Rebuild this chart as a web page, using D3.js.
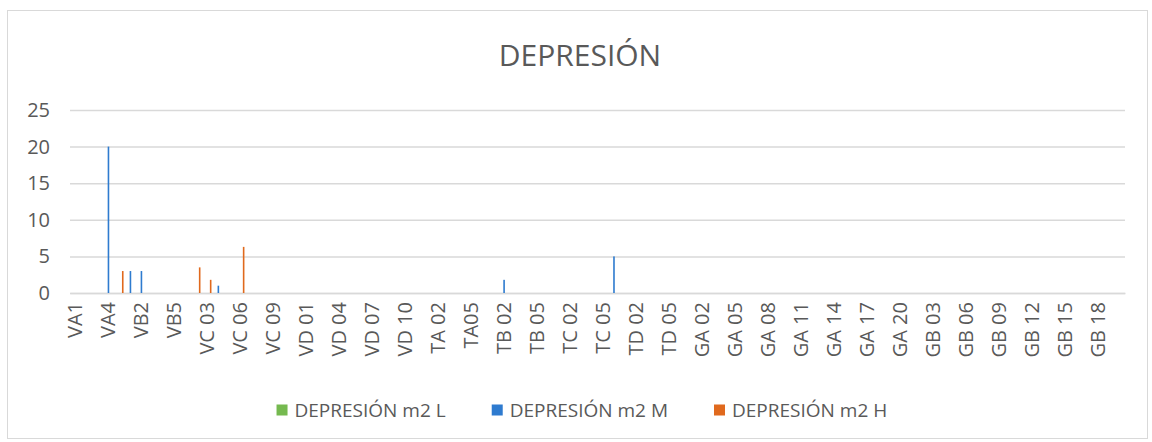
<!DOCTYPE html>
<html>
<head>
<meta charset="utf-8">
<script src="https://cdn.jsdelivr.net/npm/d3@7"></script>
<style>
  body { margin: 0; background: #fff; }
  text { font-family: "Open Sans", "DejaVu Sans", sans-serif; fill: #595959; }
</style>
</head>
<body>
<svg width="1152" height="442"></svg>
<script>
// categories (96 sections), labels shown every 3rd one
var categories = [
  "VA1","VA2","VA3","VA4","VA5",
  "VB1","VB2","VB3","VB4","VB5",
  "VC 01","VC 02","VC 03","VC 04","VC 05","VC 06","VC 07","VC 08","VC 09","VC 10","VC 11",
  "VD 01","VD 02","VD 03","VD 04","VD 05","VD 06","VD 07","VD 08","VD 09","VD 10","VD 11",
  "TA 01","TA 02","TA 03","TA 04","TA05","TA 06",
  "TB 01","TB 02","TB 03","TB 04","TB 05","TB 06",
  "TC 01","TC 02","TC 03","TC 04","TC 05","TC 06",
  "TD 01","TD 02","TD 03","TD 04","TD 05","TD 06",
  "GA 01","GA 02","GA 03","GA 04","GA 05","GA 06","GA 07","GA 08","GA 09","GA 10",
  "GA 11","GA 12","GA 13","GA 14","GA 15","GA 16","GA 17","GA 18","GA 19","GA 20",
  "GB 01","GB 02","GB 03","GB 04","GB 05","GB 06","GB 07","GB 08","GB 09","GB 10",
  "GB 11","GB 12","GB 13","GB 14","GB 15","GB 16","GB 17","GB 18","GB 19","GB 20"
];

var seriesNames = ["DEPRESIÓN m2 L", "DEPRESIÓN m2 M", "DEPRESIÓN m2 H"];
var seriesColors = ["#75b94f", "#2e7bcf", "#e0691d"];

// values per category, same order as categories
var valuesL = [
  0,0,0,0,0, 0,0,0,0,0,
  0,0,0,0,0,0,0,0,0,0,0,
  0,0,0,0,0,0,0,0,0,0,0,
  0,0,0,0,0,0, 0,0,0,0,0,0, 0,0,0,0,0,0, 0,0,0,0,0,0,
  0,0,0,0,0,0,0,0,0,0, 0,0,0,0,0,0,0,0,0,0,
  0,0,0,0,0,0,0,0,0,0, 0,0,0,0,0,0,0,0,0,0
];
var valuesM = [
  0,0,0,20,0, 3,3,0,0,0,
  0,0,0,1,0,0,0,0,0,0,0,
  0,0,0,0,0,0,0,0,0,0,0,
  0,0,0,0,0,0, 0,1.8,0,0,0,0, 0,0,0,0,0,5, 0,0,0,0,0,0,
  0,0,0,0,0,0,0,0,0,0, 0,0,0,0,0,0,0,0,0,0,
  0,0,0,0,0,0,0,0,0,0, 0,0,0,0,0,0,0,0,0,0
];
var valuesH = [
  0,0,0,0,3, 0,0,0,0,0,
  0,3.5,1.8,0,0,6.3,0,0,0,0,0,
  0,0,0,0,0,0,0,0,0,0,0,
  0,0,0,0,0,0, 0,0,0,0,0,0, 0,0,0,0,0,0, 0,0,0,0,0,0,
  0,0,0,0,0,0,0,0,0,0, 0,0,0,0,0,0,0,0,0,0,
  0,0,0,0,0,0,0,0,0,0, 0,0,0,0,0,0,0,0,0,0
];
var yTicks = [0, 5, 10, 15, 20, 25];

var svg = d3.select("svg");

// chart frame
svg.append("rect")
  .attr("x", 7.5).attr("y", 10.5)
  .attr("width", 1140).attr("height", 428)
  .attr("fill", "#fff").attr("stroke", "#d9d9d9");

// title
svg.append("text")
  .attr("x", 580).attr("y", 66)
  .attr("text-anchor", "middle")
  .style("font-size", "30px")
  .text("DEPRESIÓN");

// plot area (px)
var plotL = 70, plotR = 1125, plotT = 110, plotB = 293;

var x = d3.scaleBand().domain(categories).range([plotL, plotR]);
// the three series sit side by side inside each category
var xs = d3.scalePoint().domain(seriesNames).range([-3.3, 3.3]);
var y = d3.scaleLinear().domain([0, 25]).range([plotB, plotT]);

// gridlines + y labels
var yAxis = svg.append("g")
  .attr("transform", "translate(" + plotL + ",0)")
  .call(d3.axisLeft(y).tickValues(yTicks).tickSize(-(plotR - plotL)).tickPadding(20));
yAxis.select(".domain").remove();
yAxis.selectAll("line").attr("stroke", "#d9d9d9").attr("stroke-width", 1.5);
yAxis.selectAll("text").style("font-size", "20px").attr("fill", "#595959");

// x labels
var xAxis = svg.append("g")
  .attr("transform", "translate(0," + plotB + ")")
  .call(d3.axisBottom(x)
    .tickValues(categories.filter((c, i) => i % 3 == 0))
    .tickSize(0));
xAxis.select(".domain").attr("stroke", "#d9d9d9").attr("stroke-width", 1.5);
xAxis.selectAll("text")
  .style("font-size", "20px")
  .attr("fill", "#595959")
  .attr("transform", "rotate(-90)")
  .attr("text-anchor", "end")
  .attr("dy", "0.35em")
  .attr("x", -9).attr("y", 0);

// bars
var allValues = [valuesL, valuesM, valuesH];
var bars = [];
categories.forEach(function(c, i) {
  seriesNames.forEach(function(s, k) {
    if (allValues[k][i] > 0) bars.push({cat: c, series: s, k: k, v: allValues[k][i]});
  });
});
svg.append("g").selectAll("rect")
  .data(bars).enter().append("rect")
  .attr("x", d => x(d.cat) + x.bandwidth() / 2 + xs(d.series) - 0.8)
  .attr("width", 1.6)
  .attr("y", d => y(d.v))
  .attr("height", d => y(0) - y(d.v))
  .attr("fill", d => seriesColors[d.k]);

// legend
var lg = svg.append("g");
var items = lg.selectAll("g").data(seriesNames).enter().append("g");
items.append("rect")
  .attr("width", 11).attr("height", 11)
  .attr("y", -5.5)
  .attr("fill", (d, i) => seriesColors[i]);
items.append("text")
  .attr("x", 18).attr("dy", "0.35em")
  .style("font-size", "19px")
  .text(d => d);
var pos = 0, offsets = [];
items.each(function() {
  offsets.push(pos);
  pos += this.getBBox().width + 46;
});
var startX = 714 - offsets[2];
items.attr("transform", (d, i) => "translate(" + (startX + offsets[i]) + ",410)");
</script>
</body>
</html>
